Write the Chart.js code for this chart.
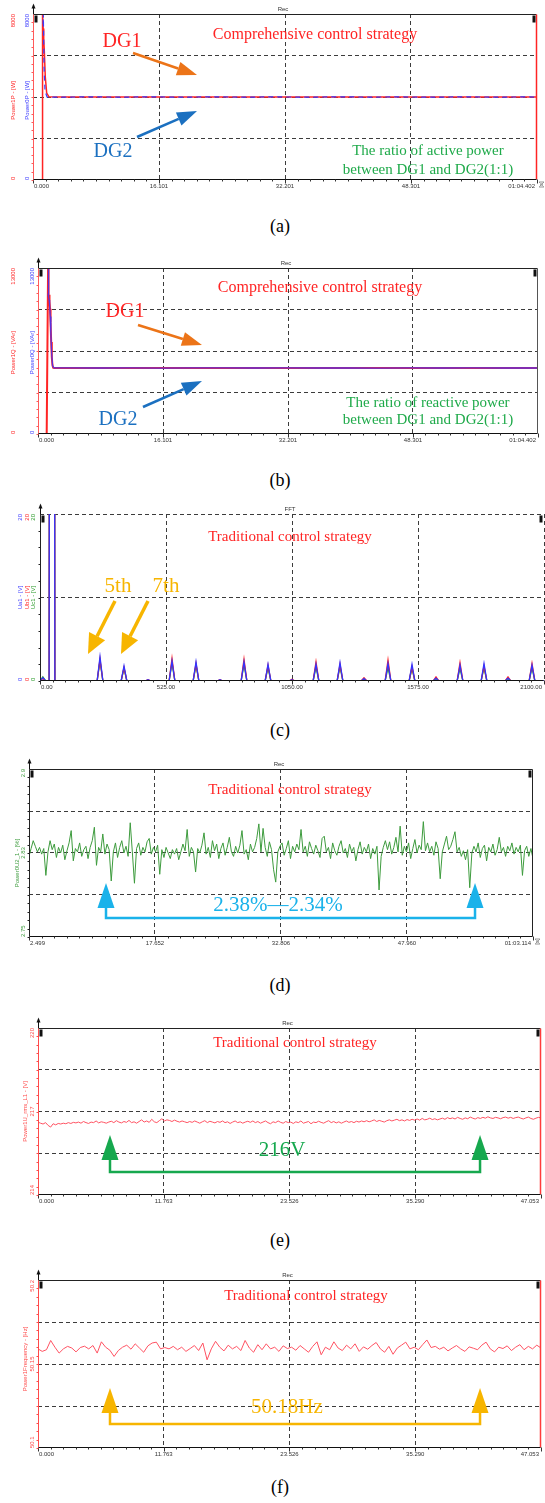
<!DOCTYPE html>
<html>
<head>
<meta charset="utf-8">
<script src="https://cdn.jsdelivr.net/npm/chart.js@4.4.1/dist/chart.umd.min.js"></script>
<style>
  body { margin: 0; background: #fff; width: 545px; height: 1503px; position: relative; overflow: hidden; }
  canvas { position: absolute; left: 0; }
  .cap { position: absolute; left: 0; width: 560px; text-align: center; font-family: "Liberation Serif", "Times New Roman", serif; font-size: 18px; line-height: 20px; color: #000; }
</style>
</head>
<body>
<canvas id="ca" width="545" height="196" style="top:0px"></canvas>
<div class="cap" style="top:216px">(a)</div>
<canvas id="cb" width="545" height="196" style="top:254px"></canvas>
<div class="cap" style="top:470px">(b)</div>
<canvas id="cc" width="545" height="197" style="top:500px"></canvas>
<div class="cap" style="top:720px">(c)</div>
<canvas id="cd" width="545" height="198" style="top:755px"></canvas>
<div class="cap" style="top:975px">(d)</div>
<canvas id="ce" width="545" height="197" style="top:1014px"></canvas>
<div class="cap" style="top:1230px">(e)</div>
<canvas id="cf" width="545" height="198" style="top:1266px"></canvas>
<div class="cap" style="top:1477px">(f)</div>

<script>
// Power quality recordings, six panels

// (a) active power of DG1 / DG2 [W]
const aTicks = [0, 16.101, 32.201, 48.301, 64.402];
const aTickLabels = ['0.000', '16.101', '32.201', '48.301', '01:04.402'];
const aTimeP1 = [1.19, 1.22, 1.30, 1.37, 1.44, 1.57, 1.75, 2.04, 4, 8, 12, 16, 20, 24, 28, 32, 36, 40, 44, 48, 52, 56, 60, 64.4];
const aP1 = [0, 8000, 7300, 6800, 6265, 4964, 4190, 4010, 3995, 4005, 3998, 4004, 3996, 4003, 3999, 4006, 3995, 4002, 3997, 4004, 3998, 4003, 3996, 4000];
const aTimeP2 = [1.29, 1.32, 1.41, 1.53, 1.79, 3, 7, 11, 15, 19, 23, 27, 31, 35, 39, 43, 47, 51, 55, 59, 63, 64.4];
const aP2 = [7500, 8000, 5500, 4300, 4000, 3990, 4008, 3994, 4006, 3992, 4007, 3995, 4005, 3993, 4008, 3996, 4004, 3992, 4007, 3995, 4003, 4000];

// (b) reactive power of DG1 / DG2 [VAr]
const bTimeQ1 = [1.12, 1.30, 1.36, 1.42, 1.48, 1.55, 1.62, 1.70, 1.78, 1.86, 1.95, 2.10, 5, 9, 13, 17, 21, 25, 29, 33, 37, 41, 45, 49, 53, 57, 61, 64.4];
const bQ1 = [0, 13000, 10600, 10900, 10400, 9800, 8700, 7200, 6000, 5400, 5200, 5170, 5165, 5175, 5168, 5172, 5166, 5174, 5169, 5171, 5165, 5175, 5168, 5172, 5167, 5173, 5169, 5170];
const bTimeQ2 = [1.31, 1.34, 1.38, 1.44, 1.50, 1.58, 1.66, 1.76, 1.88, 2.05, 4, 8, 12, 16, 20, 24, 28, 32, 36, 40, 44, 48, 52, 56, 60, 64.4];
const bQ2 = [11000, 13000, 10700, 10500, 10100, 9200, 7800, 6300, 5350, 5180, 5172, 5168, 5174, 5166, 5171, 5175, 5167, 5173, 5169, 5170, 5166, 5174, 5168, 5172, 5169, 5170];

// (c) voltage spectrum [V], peaks at these frequencies [Hz]
const cTicks = [0, 525, 1050, 1575, 2100];
const cTickLabels = ['0.00', '525.00', '1050.00', '1575.00', '2100.00'];
const cPeakFreq = [12, 50, 250, 350, 450, 550, 650, 750, 850, 950, 1050, 1150, 1250, 1350, 1450, 1550, 1650, 1750, 1850, 1950, 2050];
const cUa1 = [0.4, 311, 2.9, 1.8, 0.15, 2.4, 2.3, 0.15, 2.3, 2.0, 0.15, 2.0, 2.2, 0.3, 2.1, 2.0, 0.35, 1.9, 2.1, 0.35, 1.9];
const cUb1 = [0.3, 311, 2.6, 1.6, 0.15, 2.7, 2.1, 0.15, 2.6, 1.9, 0.2, 2.3, 2.0, 0.4, 2.5, 1.7, 0.5, 2.2, 1.8, 0.5, 2.1];
const cUc1 = [0.5, 311, 2.4, 1.5, 0.1, 2.2, 1.9, 0.1, 2.0, 1.6, 0.1, 1.7, 1.7, 0.2, 1.6, 1.5, 0.3, 1.5, 1.6, 0.3, 1.6];
const PEAK_HALF = 12;

// (d) voltage unbalance U2 [%], sampled evenly from 2.499 s to 63.114 s
const dTicks = [2.499, 17.652, 32.806, 47.960, 63.114];
const dTickLabels = ['2.499', '17.652', '32.806', '47.960', '01:03.114'];
const dU2 = [
  2.822, 2.829, 2.836, 2.831, 2.826, 2.830, 2.824, 2.829, 2.805, 2.826,
  2.836, 2.828, 2.833, 2.821, 2.830, 2.825, 2.832, 2.819, 2.827, 2.834,
  2.845, 2.818, 2.829, 2.826, 2.834, 2.822, 2.828, 2.831, 2.820, 2.830,
  2.836, 2.848, 2.814, 2.830, 2.826, 2.842, 2.824, 2.833, 2.828, 2.800,
  2.826, 2.834, 2.821, 2.830, 2.836, 2.825, 2.831, 2.822, 2.852, 2.826,
  2.798, 2.829, 2.834, 2.823, 2.830, 2.826, 2.835, 2.838, 2.824, 2.830,
  2.826, 2.832, 2.806, 2.828, 2.821, 2.830, 2.825, 2.820, 2.828, 2.824,
  2.829, 2.819, 2.826, 2.833, 2.827, 2.846, 2.822, 2.830, 2.826, 2.808,
  2.829, 2.825, 2.832, 2.843, 2.824, 2.830, 2.821, 2.836, 2.827, 2.833,
  2.820, 2.829, 2.834, 2.823, 2.830, 2.839, 2.826, 2.822, 2.831, 2.825,
  2.832, 2.845, 2.824, 2.828, 2.819, 2.833, 2.826, 2.830, 2.838, 2.851,
  2.826, 2.847, 2.830, 2.822, 2.835, 2.828, 2.810, 2.799, 2.826, 2.831,
  2.834, 2.823, 2.829, 2.836, 2.820, 2.831, 2.826, 2.833, 2.828, 2.846,
  2.826, 2.831, 2.822, 2.835, 2.829, 2.824, 2.832, 2.827, 2.821, 2.838,
  2.840, 2.826, 2.830, 2.820, 2.834, 2.827, 2.823, 2.831, 2.836, 2.825,
  2.829, 2.821, 2.833, 2.826, 2.830, 2.818, 2.828, 2.835, 2.824, 2.830,
  2.826, 2.833, 2.820, 2.829, 2.824, 2.831, 2.792, 2.822, 2.830, 2.836,
  2.828, 2.835, 2.824, 2.830, 2.839, 2.826, 2.849, 2.823, 2.831, 2.826,
  2.834, 2.820, 2.829, 2.837, 2.825, 2.832, 2.828, 2.853, 2.827, 2.834,
  2.826, 2.831, 2.823, 2.835, 2.829, 2.802, 2.826, 2.833, 2.840, 2.828,
  2.831, 2.837, 2.844, 2.826, 2.830, 2.822, 2.827, 2.819, 2.828, 2.794,
  2.825, 2.831, 2.826, 2.834, 2.821, 2.829, 2.832, 2.818, 2.830, 2.826,
  2.833, 2.823, 2.828, 2.839, 2.826, 2.830, 2.822, 2.831, 2.827, 2.834,
  2.824, 2.830, 2.826, 2.832, 2.805, 2.827, 2.831, 2.822, 2.829, 2.820
];

// (e) rms voltage L1 [V], sampled evenly over 0..47.053 s
const efTicks = [0, 11.763, 23.526, 35.290, 47.053];
const efTickLabels = ['0.000', '11.763', '23.526', '35.290', '47.053'];
const eUrms = [
  216.62, 216.58, 216.55, 216.60, 216.50, 216.44, 216.56, 216.52, 216.57, 216.55,
  216.58, 216.56, 216.60, 216.57, 216.61, 216.59, 216.62, 216.58, 216.64, 216.60,
  216.57, 216.62, 216.60, 216.66, 216.59, 216.63, 216.61, 216.58, 216.62, 216.65,
  216.60, 216.67, 216.62, 216.59, 216.64, 216.61, 216.68, 216.60, 216.63, 216.58,
  216.64, 216.70, 216.62, 216.66, 216.61, 216.72, 216.63, 216.60, 216.67, 216.74,
  216.66, 216.70, 216.68, 216.64, 216.69, 216.65, 216.62, 216.66, 216.63, 216.60,
  216.64, 216.61, 216.66, 216.62, 216.58, 216.63, 216.67, 216.60, 216.65, 216.62,
  216.59, 216.64, 216.61, 216.66, 216.60, 216.63, 216.57, 216.62, 216.66, 216.60,
  216.63, 216.58, 216.62, 216.65, 216.61, 216.66, 216.60, 216.64, 216.58, 216.62,
  216.66, 216.60, 216.56, 216.63, 216.60, 216.66, 216.61, 216.58, 216.64, 216.60,
  216.62, 216.57, 216.63, 216.60, 216.66, 216.58, 216.61, 216.64, 216.56, 216.62,
  216.60, 216.65, 216.61, 216.58, 216.63, 216.67, 216.60, 216.64, 216.59, 216.63,
  216.58, 216.62, 216.66, 216.61, 216.64, 216.60, 216.65, 216.62, 216.66, 216.63,
  216.67, 216.63, 216.66, 216.70, 216.64, 216.68, 216.65, 216.62, 216.67, 216.70,
  216.66, 216.69, 216.72, 216.67, 216.70, 216.66, 216.71, 216.68, 216.72, 216.69,
  216.73, 216.69, 216.75, 216.70, 216.72, 216.76, 216.71, 216.74, 216.70, 216.73,
  216.76, 216.72, 216.78, 216.74, 216.77, 216.73, 216.79, 216.75, 216.72, 216.77,
  216.74, 216.80, 216.76, 216.73, 216.78, 216.75, 216.79, 216.76, 216.81, 216.77,
  216.75, 216.79, 216.77, 216.74, 216.78, 216.80, 216.76, 216.79, 216.75, 216.78,
  216.80, 216.76, 216.73, 216.77, 216.80, 216.75, 216.72, 216.76, 216.79, 216.77
];

// (f) frequency [Hz], sampled evenly over 0..47.053 s
const fFreq = [
  50.1590, 50.1575, 50.1585, 50.1640, 50.1600, 50.1565, 50.1590, 50.1605, 50.1595, 50.1572,
  50.1598, 50.1606, 50.1590, 50.1610, 50.1565, 50.1632, 50.1600, 50.1582, 50.1545, 50.1580,
  50.1600, 50.1612, 50.1588, 50.1620, 50.1595, 50.1570, 50.1608, 50.1625, 50.1630, 50.1590,
  50.1598, 50.1590, 50.1605, 50.1585, 50.1600, 50.1575, 50.1592, 50.1610, 50.1580, 50.1625,
  50.1525, 50.1590, 50.1635, 50.1600, 50.1578, 50.1612, 50.1590, 50.1605, 50.1580, 50.1640,
  50.1595, 50.1570, 50.1615, 50.1585, 50.1620, 50.1590, 50.1600, 50.1575, 50.1608, 50.1592,
  50.1600, 50.1582, 50.1610, 50.1590, 50.1570, 50.1605, 50.1632, 50.1555, 50.1600, 50.1585,
  50.1632, 50.1595, 50.1580, 50.1612, 50.1590, 50.1620, 50.1575, 50.1602, 50.1588, 50.1610,
  50.1628, 50.1590, 50.1570, 50.1605, 50.1558, 50.1595, 50.1612, 50.1630, 50.1590, 50.1600,
  50.1585, 50.1615, 50.1643, 50.1598, 50.1605, 50.1588, 50.1600, 50.1578, 50.1595, 50.1610,
  50.1590, 50.1575, 50.1602, 50.1594, 50.1585, 50.1612, 50.1630, 50.1590, 50.1572, 50.1600,
  50.1592, 50.1608, 50.1580, 50.1600, 50.1615, 50.1585, 50.1605, 50.1590, 50.1612, 50.1595
];

const RED = '#ff2424';
const BLUE = '#3a3aff';
const SERIF = '"Liberation Serif", "Times New Roman", serif';
const SMALL = '6px "Liberation Sans", Arial, sans-serif';
const CLEAR = 'rgba(0,0,0,0)';

function toPoints(xs, ys) {
  return xs.map((x, i) => ({ x: x, y: ys[i] }));
}

function sampled(start, end, ys) {
  const step = (end - start) / (ys.length - 1);
  return ys.map((y, i) => ({ x: start + i * step, y: y }));
}

function spectrum(freqs, amps) {
  const pts = [{ x: 0, y: 0 }];
  freqs.forEach((f, i) => {
    pts.push({ x: f - PEAK_HALF, y: 0 }, { x: f, y: amps[i] }, { x: f + PEAK_HALF, y: 0 });
  });
  pts.push({ x: 2100, y: 0 });
  return pts;
}

function line(data, color, width, dash) {
  return { data: data, borderColor: color, borderWidth: width, borderDash: dash || [],
           pointRadius: 0, tension: 0, fill: false };
}

function vtext(ctx, str, x, y, align, color) {
  ctx.save();
  ctx.translate(x, y);
  ctx.rotate(-Math.PI / 2);
  ctx.textAlign = align;
  ctx.textBaseline = 'middle';
  ctx.fillStyle = color;
  ctx.fillText(str, 0, 0);
  ctx.restore();
}

function arrow(ctx, x1, y1, x2, y2, color, width, head, headW) {
  const ang = Math.atan2(y2 - y1, x2 - x1);
  const bx = x2 - head * Math.cos(ang), by = y2 - head * Math.sin(ang);
  ctx.strokeStyle = color;
  ctx.fillStyle = color;
  ctx.lineWidth = width;
  ctx.beginPath(); ctx.moveTo(x1, y1); ctx.lineTo(bx, by); ctx.stroke();
  ctx.beginPath();
  ctx.moveTo(x2, y2);
  ctx.lineTo(bx + headW / 2 * Math.sin(ang), by - headW / 2 * Math.cos(ang));
  ctx.lineTo(bx - headW / 2 * Math.sin(ang), by + headW / 2 * Math.cos(ang));
  ctx.closePath();
  ctx.fill();
}

// range marker: two upward arrows joined by a line underneath
function span(ctx, x1, x2, yTip, yBase, color) {
  const head = 25, hw = 8.5;
  ctx.strokeStyle = color;
  ctx.fillStyle = color;
  ctx.lineWidth = 2.5;
  ctx.beginPath();
  ctx.moveTo(x1, yTip + head); ctx.lineTo(x1, yBase); ctx.lineTo(x2, yBase); ctx.lineTo(x2, yTip + head);
  ctx.stroke();
  [x1, x2].forEach(x => {
    ctx.beginPath();
    ctx.moveTo(x, yTip); ctx.lineTo(x - hw, yTip + head); ctx.lineTo(x + hw, yTip + head);
    ctx.closePath(); ctx.fill();
  });
}

function makeDecor(spec) {
  return {
    id: 'decor',
    afterDatasetsDraw(chart) {
      const ctx = chart.ctx, a = chart.chartArea;
      const xs = chart.scales.x, ys = chart.scales.y;
      const L = Math.round(a.left) + 0.5, R = Math.round(a.right) - 0.5;
      const T = Math.round(a.top) + 0.5, B = Math.round(a.bottom) - 0.5;
      ctx.save();
      ctx.lineWidth = 1;

      // frame
      if (spec.topColor) {
        ctx.strokeStyle = spec.topColor;
        ctx.beginPath(); ctx.moveTo(L, T); ctx.lineTo(R, T); ctx.stroke();
      }
      if (spec.rightColor) {
        ctx.strokeStyle = spec.rightColor;
        ctx.lineWidth = spec.rightWidth || 1;
        ctx.beginPath(); ctx.moveTo(R, T); ctx.lineTo(R, B); ctx.stroke();
        ctx.lineWidth = 1;
      }
      ctx.strokeStyle = '#111';
      ctx.beginPath(); ctx.moveTo(L, B); ctx.lineTo(R, B); ctx.stroke();
      ctx.strokeStyle = '#111';
      ctx.beginPath(); ctx.moveTo(L, T - 9); ctx.lineTo(L, T); ctx.stroke();
      ctx.fillStyle = '#111';
      ctx.beginPath(); ctx.moveTo(L, T - 11); ctx.lineTo(L - 2, T - 6); ctx.lineTo(L + 2, T - 6); ctx.closePath(); ctx.fill();
      ctx.strokeStyle = spec.axisColor;
      ctx.beginPath(); ctx.moveTo(L, T); ctx.lineTo(L, B); ctx.stroke();

      // corner markers
      ctx.fillStyle = '#111';
      ctx.fillRect(L + 1, T + 1, 3, 7);
      ctx.fillRect(R - 4, T + 1, 3, 7);

      // bottom ticks, ten minor steps per major step
      ctx.strokeStyle = '#333';
      const xt = spec.xTicks;
      for (let i = 0; i < xt.length; i++) {
        const px = Math.round(xs.getPixelForValue(xt[i])) + 0.5;
        ctx.beginPath(); ctx.moveTo(px, B); ctx.lineTo(px, B + 4); ctx.stroke();
        if (i < xt.length - 1) {
          for (let k = 1; k < 10; k++) {
            const mx = Math.round(xs.getPixelForValue(xt[i] + (xt[i + 1] - xt[i]) * k / 10)) + 0.5;
            ctx.beginPath(); ctx.moveTo(mx, B); ctx.lineTo(mx, B + 2); ctx.stroke();
          }
        }
      }
      // left minor ticks
      ctx.strokeStyle = spec.axisColor;
      const yt = spec.yTicks;
      for (let i = 0; i < yt.length - 1; i++) {
        for (let k = 0; k < 5; k++) {
          const my = Math.round(ys.getPixelForValue(yt[i] + (yt[i + 1] - yt[i]) * k / 5)) + 0.5;
          ctx.beginPath(); ctx.moveTo(L - 2, my); ctx.lineTo(L, my); ctx.stroke();
        }
      }

      // x labels
      ctx.font = SMALL;
      ctx.fillStyle = '#333';
      ctx.textBaseline = 'middle';
      spec.xLabels.forEach((s, i) => {
        const px = xs.getPixelForValue(xt[i]);
        ctx.textAlign = i === 0 ? 'left' : (i === xt.length - 1 ? 'right' : 'center');
        const dx = i === 0 ? 1 : (i === xt.length - 1 ? -2 : 0);
        ctx.fillText(s, px + dx, B + 7);
      });
      if (spec.unit) vtext(ctx, '[s]', R + 5, B + 5, 'center', '#333');

      // header
      ctx.textAlign = 'center';
      ctx.fillStyle = '#333';
      ctx.fillText(spec.header, xs.getPixelForValue(xt[2]) - 2, T - 5);

      // y labels and titles, vertical text
      spec.yCols.forEach(col => {
        ctx.font = SMALL;
        col.labels.forEach(lb => {
          const py = ys.getPixelForValue(lb.v);
          const align = lb.v === spec.yMax ? 'right' : (lb.v === spec.yMin ? 'left' : 'center');
          vtext(ctx, lb.text, col.x, py, align, col.color);
        });
        if (col.title) vtext(ctx, col.title, col.x - (col.titleDx || 0), T + (B - T) * col.titleAt, 'center', col.color);
      });

      // annotations
      spec.notes.forEach(n => {
        if (n.t === 'text') {
          ctx.font = n.size + 'px ' + SERIF;
          ctx.fillStyle = n.c;
          ctx.textAlign = 'center';
          ctx.textBaseline = 'middle';
          ctx.fillText(n.s, xs.getPixelForValue(n.x), ys.getPixelForValue(n.y));
        } else if (n.t === 'arrow') {
          arrow(ctx, xs.getPixelForValue(n.x1), ys.getPixelForValue(n.y1),
                xs.getPixelForValue(n.x2), ys.getPixelForValue(n.y2), n.c, n.w, n.head, n.headW);
        } else if (n.t === 'span') {
          span(ctx, xs.getPixelForValue(n.x1), xs.getPixelForValue(n.x2),
               ys.getPixelForValue(n.yTip), ys.getPixelForValue(n.yBase), n.c);
        }
      });
      ctx.restore();
    }
  };
}

function gridColor(ticks, keepLast) {
  return c => {
    if (c.index === 0) return CLEAR;
    if (c.index === ticks.length - 1 && !keepLast) return CLEAR;
    return '#3c3c3c';
  };
}

function makeChart(spec) {
  return new Chart(document.getElementById(spec.id), {
    type: 'line',
    data: { datasets: spec.datasets },
    options: {
      responsive: false,
      animation: false,
      events: [],
      layout: { padding: { left: spec.left, right: 545 - spec.right, top: 14, bottom: spec.bottomPad } },
      plugins: { legend: { display: false }, tooltip: { enabled: false } },
      scales: {
        x: {
          type: 'linear', min: spec.xTicks[0], max: spec.xTicks[spec.xTicks.length - 1],
          afterBuildTicks: s => { s.ticks = spec.xTicks.map(v => ({ value: v })); },
          ticks: { display: false },
          grid: { drawTicks: false, color: gridColor(spec.xTicks, spec.dashedEdges) },
          border: { display: false, dash: [4, 3] }
        },
        y: {
          type: 'linear', min: spec.yMin, max: spec.yMax,
          afterBuildTicks: s => { s.ticks = spec.yTicks.map(v => ({ value: v })); },
          ticks: { display: false },
          grid: { drawTicks: false, color: gridColor(spec.yTicks, spec.dashedEdges) },
          border: { display: false, dash: [4, 3] }
        }
      }
    },
    plugins: [makeDecor(spec)]
  });
}

// (a)
makeChart({
  id: 'ca', left: 33, right: 537, bottomPad: 16, header: 'Rec', unit: true,
  xTicks: aTicks, xLabels: aTickLabels,
  yMin: 0, yMax: 8000, yTicks: [0, 2000, 4000, 6000, 8000],
  axisColor: '#ff5a5a', topColor: '#222', rightColor: RED, rightWidth: 1.5,
  datasets: [
    line(toPoints(aTimeP2, aP2), BLUE, 1.2, [5, 4]),
    line(toPoints(aTimeP1, aP1), RED, 1.5)
  ],
  yCols: [
    { x: 13, color: RED, labels: [{ v: 8000, text: '8000' }, { v: 0, text: '0' }], title: 'Power1P - [W]', titleAt: 0.52 },
    { x: 27, color: BLUE, labels: [{ v: 8000, text: '8000' }, { v: 0, text: '0' }], title: 'Power0P - [W]', titleAt: 0.52 }
  ],
  notes: [
    { t: 'text', s: 'Comprehensive control strategy', x: 36.03, y: 6988, c: RED, size: 16 },
    { t: 'text', s: 'DG1', x: 11.37, y: 6650, c: RED, size: 20 },
    { t: 'arrow', x1: 12.78, y1: 6120, x2: 20.96, y2: 5060, c: '#ec7418', w: 2.5, head: 20, headW: 14 },
    { t: 'text', s: 'DG2', x: 10.22, y: 1349, c: '#1b70c0', size: 20 },
    { t: 'arrow', x1: 13.29, y1: 2072, x2: 20.96, y2: 3325, c: '#1b70c0', w: 2.5, head: 20, headW: 14 },
    { t: 'text', s: 'The ratio of active power', x: 50.47, y: 1398, c: '#1faa4a', size: 15 },
    { t: 'text', s: 'between DG1 and DG2(1:1)', x: 50.47, y: 482, c: '#1faa4a', size: 15 }
  ]
});

// (b)
makeChart({
  id: 'cb', left: 38, right: 538, bottomPad: 16, header: 'Rec', unit: false,
  xTicks: aTicks, xLabels: aTickLabels,
  yMin: 0, yMax: 13000, yTicks: [0, 3250, 6500, 9750, 13000],
  axisColor: '#ff5a5a', topColor: '#222', rightColor: '#555',
  datasets: [
    line(toPoints(bTimeQ2, bQ2), 'rgba(60,50,255,0.85)', 1.3),
    line(toPoints(bTimeQ1, bQ1), RED, 2)
  ],
  yCols: [
    { x: 13, color: RED, labels: [{ v: 13000, text: '13000' }, { v: 0, text: '0' }], title: 'Power1Q - [VAr]', titleAt: 0.51 },
    { x: 32, color: BLUE, labels: [{ v: 13000, text: '13000' }, { v: 0, text: '0' }], title: 'Power0Q - [VAr]', titleAt: 0.51 }
  ],
  notes: [
    { t: 'text', s: 'Comprehensive control strategy', x: 36.32, y: 11434, c: RED, size: 16 },
    { t: 'text', s: 'DG1', x: 11.21, y: 9554, c: RED, size: 20 },
    { t: 'arrow', x1: 12.88, y1: 8536, x2: 21.12, y2: 6970, c: '#ec7418', w: 2.5, head: 20, headW: 14 },
    { t: 'text', s: 'DG2', x: 10.30, y: 1096, c: '#1b70c0', size: 20 },
    { t: 'arrow', x1: 13.52, y1: 2114, x2: 21.12, y2: 4151, c: '#1b70c0', w: 2.5, head: 20, headW: 14 },
    { t: 'text', s: 'The ratio of reactive power', x: 50.23, y: 2428, c: '#1faa4a', size: 15 },
    { t: 'text', s: 'between DG1 and DG2(1:1)', x: 50.23, y: 1096, c: '#1faa4a', size: 15 }
  ]
});

// (c)
makeChart({
  id: 'cc', left: 40, right: 544, bottomPad: 16, header: 'FFT', unit: false, dashedEdges: true,
  xTicks: cTicks, xLabels: cTickLabels,
  yMin: 0, yMax: 20, yTicks: [0, 10, 20],
  axisColor: '#222', topColor: null, rightColor: null,
  datasets: [
    line(spectrum(cPeakFreq, cUa1), '#3333ff', 1.3),
    line(spectrum(cPeakFreq, cUb1), RED, 1.3),
    line(spectrum(cPeakFreq, cUc1), '#2a9a2a', 1.3)
  ],
  yCols: [
    { x: 20, color: '#4040ff', labels: [{ v: 20, text: '20' }, { v: 0, text: '0' }], title: 'Ua1 - [V]', titleAt: 0.5 },
    { x: 27, color: RED, labels: [{ v: 20, text: '20' }, { v: 0, text: '0' }], title: 'Ub1 - [V]', titleAt: 0.5 },
    { x: 33, color: '#2a9a2a', labels: [{ v: 20, text: '20' }, { v: 0, text: '0' }], title: 'Uc1 - [V]', titleAt: 0.5 }
  ],
  notes: [
    { t: 'text', s: 'Traditional control strategy', x: 1041.7, y: 17.25, c: RED, size: 15 },
    { t: 'text', s: '5th', x: 325, y: 11.26, c: '#f7b500', size: 21 },
    { t: 'text', s: '7th', x: 525, y: 11.26, c: '#f7b500', size: 21 },
    { t: 'arrow', x1: 312.5, y1: 9.58, x2: 200, y2: 3.23, c: '#f7b500', w: 3.5, head: 20, headW: 18 },
    { t: 'arrow', x1: 450, y1: 9.58, x2: 337.5, y2: 3.23, c: '#f7b500', w: 3.5, head: 20, headW: 18 }
  ]
});

// (d)
makeChart({
  id: 'cd', left: 29, right: 533, bottomPad: 16, header: 'Rec', unit: true,
  xTicks: dTicks, xLabels: dTickLabels,
  yMin: 2.75, yMax: 2.9, yTicks: [2.75, 2.7875, 2.825, 2.8625, 2.9],
  axisColor: '#222', topColor: '#222', rightColor: '#222',
  datasets: [
    line(sampled(2.499, 63.114, dU2), '#3d9b3d', 1)
  ],
  yCols: [
    { x: 23, color: '#3d9b3d', labels: [{ v: 2.9, text: '2.9' }, { v: 2.825, text: '2.83' }, { v: 2.75, text: '2.75' }] },
    { x: 17, color: '#3d9b3d', labels: [], title: 'Power0U2_1 - [%]', titleAt: 0.56 }
  ],
  notes: [
    { t: 'text', s: 'Traditional control strategy', x: 33.89, y: 2.8813, c: RED, size: 15 },
    { t: 'span', x1: 11.76, x2: 56.14, yTip: 2.7982, yBase: 2.7670, c: '#1ab2ea' },
    { t: 'text', s: '2.38%\u20142.34%', x: 32.45, y: 2.7777, c: '#1ab2ea', size: 21 }
  ]
});

// (e)
makeChart({
  id: 'ce', left: 38, right: 541, bottomPad: 16, header: 'Rec', unit: false,
  xTicks: efTicks, xLabels: efTickLabels,
  yMin: 214, yMax: 220, yTicks: [214, 215.5, 217, 218.5, 220],
  axisColor: '#ff4a4a', topColor: '#222', rightColor: '#ff3a3a', rightWidth: 1.5,
  datasets: [
    line(sampled(0, 47.053, eUrms), '#ff5262', 1)
  ],
  yCols: [
    { x: 32, color: '#ff4a4a', labels: [{ v: 220, text: '220' }, { v: 217, text: '217' }, { v: 214, text: '214' }] },
    { x: 25, color: '#ff4a4a', labels: [], title: 'Power1U_rms_L1 - [V]', titleAt: 0.5 }
  ],
  notes: [
    { t: 'text', s: 'Traditional control strategy', x: 24.04, y: 219.461, c: RED, size: 15 },
    { t: 'span', x1: 6.735, x2: 41.35, yTip: 216.156, yBase: 214.826, c: '#16a84e' },
    { t: 'text', s: '216V', x: 22.83, y: 215.617, c: '#16a84e', size: 21 }
  ]
});

// (f)
makeChart({
  id: 'cf', left: 38, right: 541, bottomPad: 16, header: 'Rec', unit: false,
  xTicks: efTicks, xLabels: efTickLabels,
  yMin: 50.1, yMax: 50.2, yTicks: [50.1, 50.125, 50.15, 50.175, 50.2],
  axisColor: '#ff4a4a', topColor: '#222', rightColor: '#ff3a3a', rightWidth: 1.5,
  datasets: [
    line(sampled(0, 47.053, fFreq), '#ff5262', 1)
  ],
  yCols: [
    { x: 32, color: '#ff4a4a', labels: [{ v: 50.2, text: '50.2' }, { v: 50.15, text: '50.15' }, { v: 50.1, text: '50.1' }] },
    { x: 25, color: '#ff4a4a', labels: [], title: 'Power1Frequency - [Hz]', titleAt: 0.47 }
  ],
  notes: [
    { t: 'text', s: 'Traditional control strategy', x: 25.07, y: 50.1905, c: RED, size: 15 },
    { t: 'span', x1: 6.735, x2: 41.35, yTip: 50.1357, yBase: 50.1143, c: '#f7b500' },
    { t: 'text', s: '50.18Hz', x: 23.29, y: 50.1244, c: '#f7b500', size: 21 }
  ]
});
</script>
</body>
</html>
